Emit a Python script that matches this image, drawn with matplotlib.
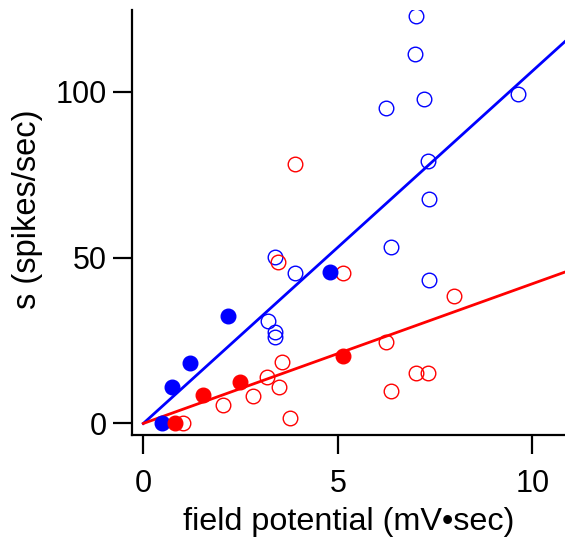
import matplotlib
matplotlib.use("Agg")
import matplotlib.pyplot as plt
import numpy as np

plt.rcParams['font.family'] = ['Liberation Sans', 'DejaVu Sans']

# Blue series
blue_open_x = [7.01, 6.98, 7.21, 6.24, 9.62, 7.33, 7.34, 3.39, 3.89, 6.36, 7.34, 3.20, 3.39, 3.39]
blue_open_y = [122.9, 111.3, 97.8, 95.2, 99.4, 79.0, 67.8, 50.1, 45.3, 53.3, 43.2, 31.0, 27.5, 26.2]
blue_filled_x = [0.47, 0.73, 1.21, 2.18, 4.81]
blue_filled_y = [0.0, 11.1, 18.1, 32.3, 45.7]

# Red series
red_open_x = [3.89, 3.45, 5.13, 7.99, 6.24, 3.57, 3.19, 3.50, 2.82, 2.05, 3.76, 6.36, 7.01, 7.31, 1.03]
red_open_y = [78.3, 48.8, 45.3, 38.5, 24.7, 18.6, 14.1, 10.9, 8.3, 5.5, 1.7, 9.8, 15.1, 15.3, 0.0]
red_filled_x = [0.82, 1.53, 2.49, 5.14]
red_filled_y = [0.0, 8.6, 12.6, 20.2]

# Fitted lines through origin
fit_slopes = [10.62, 4.21]
fit_colors = ['#0000ff', '#ff0000']

x_ticks = [0, 5, 10]
y_ticks = [0, 50, 100]

fig = plt.figure(figsize=(5.65, 5.41), dpi=100)
ax = fig.add_axes([0.233, 0.196, 0.767, 0.786])

blue = '#0000ff'
red = '#ff0000'
ms = 10.5

xl = np.array([0, 11.0])
for s, c in zip(fit_slopes, fit_colors):
    ax.plot(xl, s * xl, color=c, lw=2.0, zorder=2)

ax.plot(blue_open_x, blue_open_y, 'o', mfc='none', mec=blue, mew=1.0, ms=ms, zorder=3)
ax.plot(red_open_x, red_open_y, 'o', mfc='none', mec=red, mew=1.0, ms=ms, zorder=3)
ax.plot(blue_filled_x, blue_filled_y, 'o', mfc=blue, mec=blue, mew=1.0, ms=ms, zorder=4)
ax.plot(red_filled_x, red_filled_y, 'o', mfc=red, mec=red, mew=1.0, ms=ms, zorder=4)

ax.set_xlim(-0.30, 10.84)
ax.set_ylim(-3.47, 124.7)
ax.set_xticks(x_ticks)
ax.set_yticks(y_ticks)

for side in ['top', 'right']:
    ax.spines[side].set_visible(False)
for side in ['left', 'bottom']:
    ax.spines[side].set_linewidth(1.6)
ax.tick_params(direction='out', length=14, width=1.6, labelsize=22)
ax.tick_params(axis='y', pad=4)
ax.tick_params(axis='x', pad=10.5)

ax.set_xlabel('field potential (mV\u2022sec)', fontsize=23.3, labelpad=6)
ax.set_ylabel('s (spikes/sec)', fontsize=23.5)
ax.yaxis.set_label_coords(-0.205, 0.53)

fig.savefig('out.png', dpi=100)
